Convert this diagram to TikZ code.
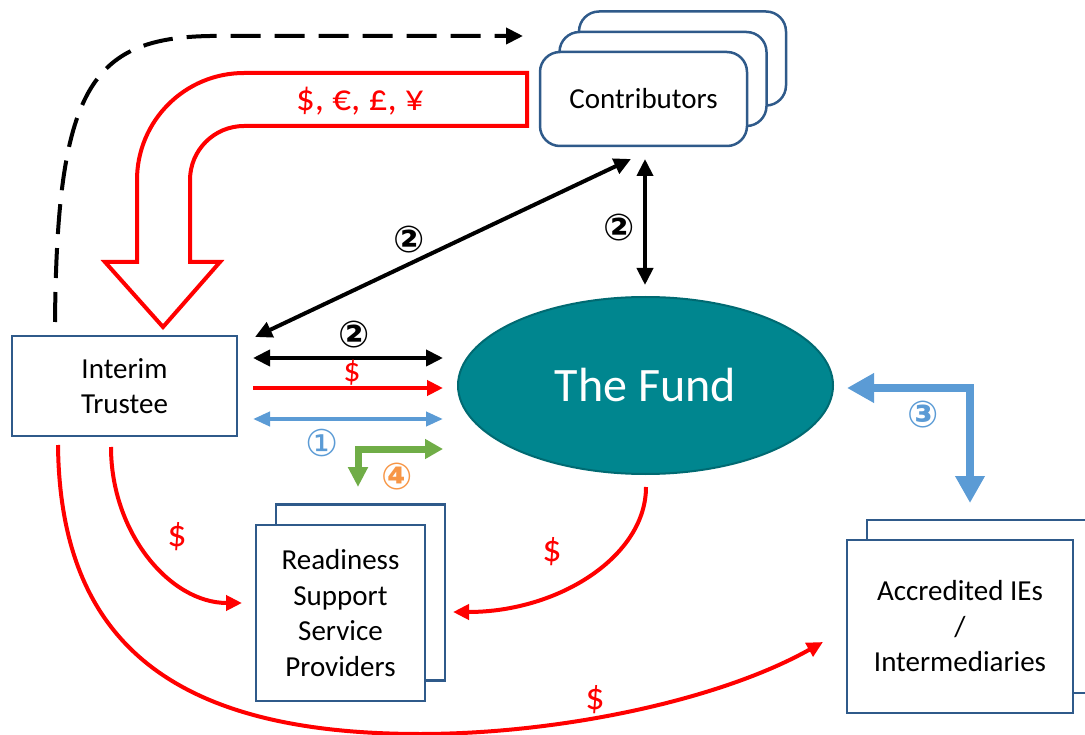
\documentclass[tikz,border=0pt]{standalone}
\usepackage{fontspec}
\setmainfont{Carlito}
\newfontfamily\circfont{DejaVu Sans}
\usetikzlibrary{arrows.meta,positioning,shapes.geometric}

\definecolor{boxblue}{HTML}{2F5A8A}
\definecolor{fundteal}{HTML}{00868F}
\definecolor{fundedge}{HTML}{006A72}
\definecolor{flowblue}{HTML}{5B9BD5}
\definecolor{flowgreen}{HTML}{70AD47}
\definecolor{numorange}{HTML}{F79646}

\newcommand{\boxfont}{\fontsize{29}{35.5}\selectfont}
\newcommand{\numfont}{\circfont\bfseries\fontsize{37}{37}\selectfont}

\tikzset{
    box/.style={draw=boxblue, line width=2.5pt, fill=white, align=center, font=\boxfont, inner sep=0pt},
    roundbox/.style={box, rounded corners=20pt},
    blackflow/.style={line width=4pt, {Triangle[length=17pt,width=16pt]}-{Triangle[length=17pt,width=16pt]}},
    redflow/.style={red, line width=4pt, -{Triangle[length=16pt,width=15pt]}},
    blueflow/.style={flowblue, line width=4pt, {Triangle[length=17pt,width=14pt]}-{Triangle[length=17pt,width=14pt]}},
    numlabel/.style={font=\numfont, inner sep=0pt},
    moneylabel/.style={red, font=\fontsize{38}{38}\selectfont, inner sep=0pt}
}

\begin{document}
\begin{tikzpicture}[x=1pt, y=-1pt]
        \useasboundingbox (0,0) rectangle (1085,735);
        \clip (0,0) rectangle (1085,735);

        % boxes
        \node[roundbox, minimum width=207, minimum height=94] (contrib3) at (682.5,58.5) {};
        \node[roundbox, minimum width=207, minimum height=94] (contrib2) at (663,79) {};
        \node[roundbox, minimum width=207, minimum height=94] (contrib) at (643.5,99) {Contributors};

        \node[box, minimum width=225, minimum height=100] (trustee) at (124.5,386) {Interim\\Trustee};

        \node[ellipse, draw=fundedge, line width=2pt, fill=fundteal, text=white, inner sep=0pt,
              minimum width=375, minimum height=177, font=\fontsize{48}{48}\selectfont] (fund) at (645.5,385.5) {The Fund};

        \node[box, minimum width=169, minimum height=176] (ready2) at (360.5,592.5) {};
        \node[box, minimum width=169, minimum height=176] (ready) at (340.5,613) {Readiness\\Support\\Service\\Providers};

        \node[box, minimum width=226, minimum height=173] (accred2) at (980,606.5) {};
        \node[box, minimum width=226, minimum height=173] (accred) at (960,626.5) {Accredited IEs\\/\\Intermediaries};

        % free ends
        \coordinate (dashstart) at (55,322);
        \coordinate (dashend) at (523,36);
        \coordinate (diagA) at (255,337);
        \coordinate (diagB) at (631,159);
        \coordinate (vertA) at (645,159);
        \coordinate (vertB) at (645,285);
        \coordinate (hstart) at (253,0);
        \coordinate (hend) at (443,0);
        \coordinate (greendown) at (358,487);
        \coordinate (greenright) at (443,449);
        \coordinate (blueleft) at (847,388);
        \coordinate (bluedown) at (970,503);
        \coordinate (readyA) at (111,447);
        \coordinate (readyB) at (242,603);
        \coordinate (fundA) at (646,487);
        \coordinate (fundB) at (453,612);
        \coordinate (accredA) at (58,445);
        \coordinate (accredB) at (823,642);

        % money to the trustee
        \draw[red, line width=4pt, fill=white, line join=miter] (527,73) -- (244,73)
            arc[start angle=270, end angle=180, radius=107] -- (137,262) -- (105,262) -- (163,327)
            -- (220,262) -- (190,262) -- (190,180) arc[start angle=180, end angle=270, radius=54]
            -- (527,126) -- cycle;
        \node[red, font=\fontsize{37}{37}\selectfont] (currency) at (360,101) {\$, €, £, ¥};

        \draw[line width=4pt, dash pattern=on 30pt off 14pt, -{Triangle[length=17pt,width=16pt]}]
            (dashstart) .. controls (57,90) and (90,38) .. (210,36) -- (dashend);

        % agreements
        \draw[blackflow] (diagA) -- (diagB);
        \node[numlabel] (n2a) at (409,240) {②};
        \draw[blackflow] (vertA) -- (vertB);
        \node[numlabel] (n2b) at (619,228) {②};

        \draw[blackflow] (hstart |- 0,358) -- (hend |- 0,358);
        \node[numlabel] (n2c) at (354,335) {②};
        \draw[redflow] (hstart |- 0,388) -- (hend |- 0,388);
        \node[red, font=\fontsize{34}{34}\selectfont, inner sep=0pt] (money1) at (352,373) {\$};
        \draw[blueflow] (hstart |- 0,419) -- (hend |- 0,419);
        \node[flowblue, font=\circfont\fontsize{37}{37}\selectfont, inner sep=0pt] (n1) at (322,443) {①};

        \draw[flowgreen, line width=7pt, {Triangle[length=20pt,width=19pt]}-{Triangle[length=18pt,width=19pt]}]
            (greendown) |- (greenright);
        \node[numlabel, numorange] (n4) at (397,477) {④};

        \draw[flowblue, line width=8pt, {Triangle[length=27pt,width=28pt]}-{Triangle[length=27pt,width=28pt]}]
            (blueleft) -| (bluedown);
        \node[numlabel, flowblue] (n3) at (923,415) {③};

        % payments
        \draw[redflow] (readyA) .. controls (111,533) and (170,603) .. (readyB);
        \node[moneylabel] (money2) at (177,537) {\$};
        \draw[redflow] (fundA) .. controls (646,556) and (559,612) .. (fundB);
        \node[moneylabel] (money3) at (552,552) {\$};
        \draw[redflow] (accredA) .. controls (60,640) and (170,734) .. (420,734)
            .. controls (560,734) and (720,700) .. (accredB);
        \node[moneylabel] (money4) at (595,700) {\$};

    \end{tikzpicture}
\end{document}
